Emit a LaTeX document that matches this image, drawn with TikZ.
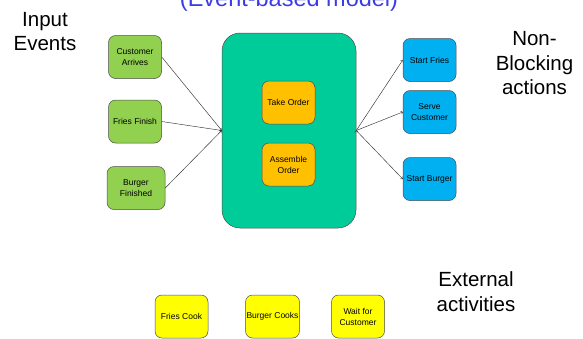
\documentclass[tikz,border=0pt]{standalone}
\usepackage{fontspec}
\setmainfont{Liberation Sans}
\usetikzlibrary{arrows,positioning}

\definecolor{evgreen}{RGB}{146,208,80}
\definecolor{evteal}{RGB}{0,204,153}
\definecolor{evorange}{RGB}{255,192,0}
\definecolor{evblue}{RGB}{0,176,240}
\definecolor{evyellow}{RGB}{255,255,0}
\definecolor{evtitle}{RGB}{60,60,230}

\begin{document}
\begin{tikzpicture}[x=1pt,y=-1pt,
  box/.style={draw=black!70, line width=0.5pt, rounded corners=7pt, minimum width=53pt,
    minimum height=43pt, inner sep=1pt, align=center, font=\fontsize{8.5}{11}\selectfont},
  label/.style={align=center, inner sep=0pt, font=\fontsize{20.5}{24.5}\selectfont},
  link/.style={->, line width=0.45pt, draw=black!80}]
\useasboundingbox (0,0) rectangle (583,338);

\node[anchor=base, text=evtitle, font=\fontsize{23.5}{28}\selectfont] (title) at (289,6) {(Event-based model)};

\node[label] (inlbl) at (45,31.5) {Input\\Events};
\node[label] (nblbl) at (534.5,63.5) {Non-\\Blocking\\actions};
\node[label] (extlbl) at (476,291.5) {External\\activities};

% input events
\node[box, fill=evgreen] (ca) at (135,57) {Customer\\Arrives};
\node[box, fill=evgreen] (ff) at (135,121.5) {Fries Finish};
\node[box, fill=evgreen, minimum width=58pt] (bf) at (136,188) {Burger\\Finished};

% event loop
\node[draw=black!70, line width=0.5pt, fill=evteal, rounded corners=18pt,
  minimum width=134pt, minimum height=195pt] (loop) at (289,130.5) {};
\node[box, fill=evorange] (to) at (288.5,102.5) {Take Order};
\node[box, fill=evorange] (ao) at (288.5,164.5) {Assemble\\Order};

% actions
\node[box, fill=evblue] (sf) at (429.5,60) {Start Fries};
\node[box, fill=evblue] (sc) at (429.5,112) {Serve\\Customer};
\node[box, fill=evblue] (sb) at (429.5,179) {Start Burger};

% external activities
\node[box, fill=evyellow] (fc) at (181.5,316.5) {Fries Cook};
\node[box, fill=evyellow] (bc) at (272.5,316.5) {Burger Cooks};
\node[box, fill=evyellow] (wc) at (358,316.5) {Wait for\\Customer};

\path[link]
(ca.east) edge (loop.west)
(ff.east) edge (loop.west)
(bf.east) edge (loop.west)
(loop.east) edge (sf.west)
edge (sc.west)
edge (sb.west);
\end{tikzpicture}
\end{document}
